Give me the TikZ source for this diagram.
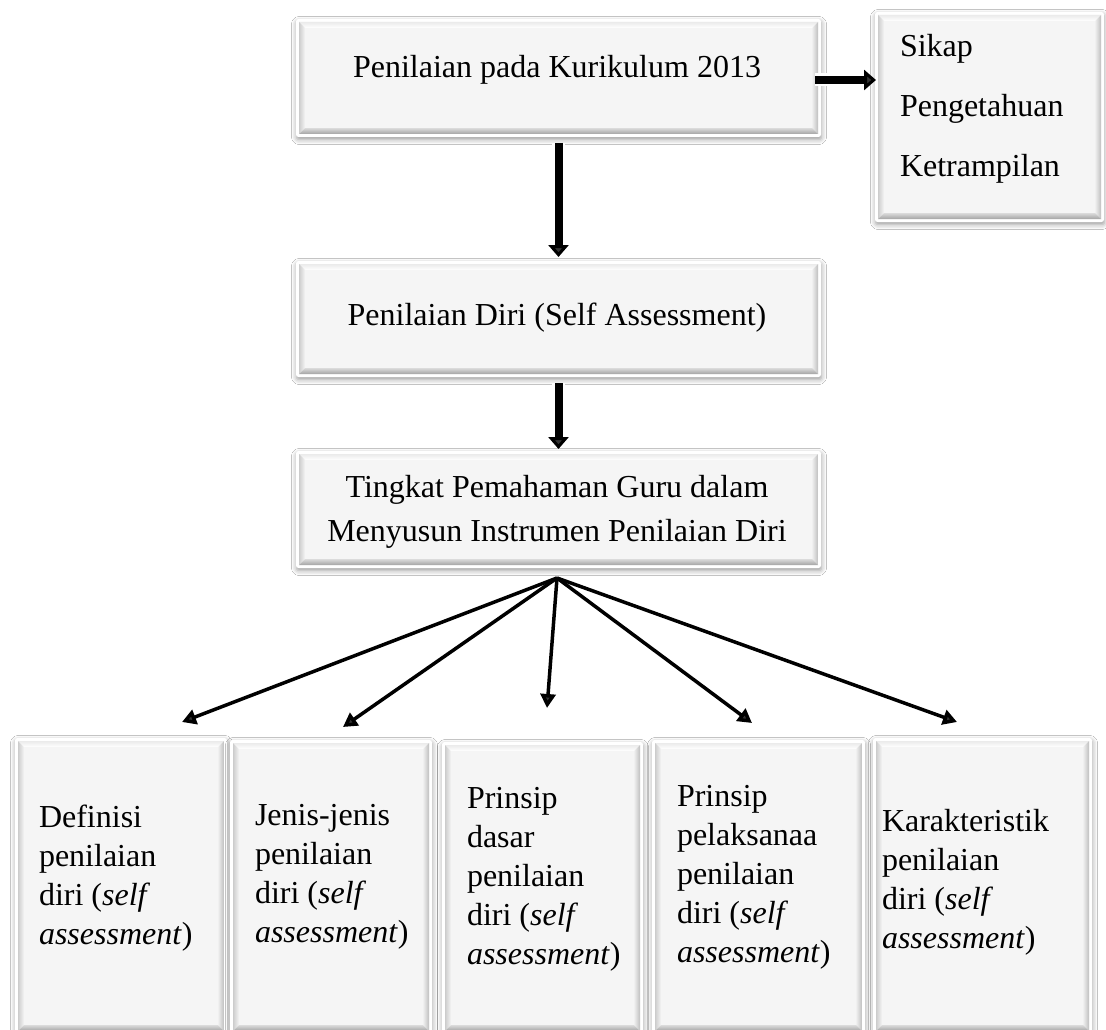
\documentclass[tikz,border=0pt]{standalone}
\usepackage{fontspec}
\setmainfont{Liberation Serif}
\usetikzlibrary{arrows.meta,shadows.blur,fit,calc}

\definecolor{facegray}{HTML}{F5F5F5}
\tikzset{
  x=1pt, y=-1pt,
  boxnode/.style={rectangle, inner sep=0pt, outer sep=0pt},
  rim/.style={fill=white, rounded corners=2.5pt,
    blur shadow={shadow xshift=0.5pt, shadow yshift=-2.5pt, shadow blur radius=5pt, shadow opacity=40}},
  bvtop/.style={top color=gray!16, bottom color=white},
  bvleft/.style={left color=gray!40, right color=gray!8},
  bvright/.style={left color=gray!12, right color=gray!50},
  bvbottom/.style={top color=gray!28, bottom color=gray!72},
  face/.style={fill=facegray},
  txt/.style={font=\fontsize{32}{39}\selectfont, inner sep=0pt, outer sep=0pt, text=black},
  blockarrow/.style={line width=8pt, -{Triangle[width=20pt,length=12pt]},
    preaction={draw=white, line width=13pt, -{Triangle[width=27pt,length=16pt]}}},
  fanarrow/.style={line width=3.5pt, -{Triangle[width=15pt,length=14pt]}},
}

% name, x0, y0, x1, y1
\newcommand\bevelbox[5]{%
  \fill[rim] (#2,#3) rectangle (#4,#5);
  \shade[bvtop] (#2+3,#3+3) -- (#4-3,#3+3) -- (#4-9,#3+9) -- (#2+9,#3+9) -- cycle;
  \shade[bvleft] (#2+3,#3+3) -- (#2+9,#3+9) -- (#2+9,#5-9) -- (#2+3,#5-3) -- cycle;
  \shade[bvright] (#4-3,#3+3) -- (#4-9,#3+9) -- (#4-9,#5-9) -- (#4-3,#5-3) -- cycle;
  \shade[bvbottom] (#2+9,#5-9) -- (#4-9,#5-9) -- (#4-3,#5-3) -- (#2+3,#5-3) -- cycle;
  \fill[face] (#2+9,#3+9) rectangle (#4-9,#5-9);
  \node[boxnode, fit={(#2,#3) (#4,#5)}] (#1) {};
}

\begin{document}
\begin{tikzpicture}
\fill[white] (0,0) rectangle (1106,1030);
\useasboundingbox (0,0) rectangle (1106,1030);

% top column
\bevelbox{kur}{296}{19}{821}{137}
\bevelbox{ranah}{875}{12}{1104}{222}
\bevelbox{diri}{296}{261}{821}{377}
\bevelbox{tingkat}{296}{451}{821}{568}

% bottom row
\bevelbox{defn}{15}{738}{227}{1034}
\bevelbox{jenis}{230}{740}{432}{1034}
\bevelbox{dasar}{442}{742}{643}{1034}
\bevelbox{laksana}{652}{740}{865}{1034}
\bevelbox{karak}{873}{738}{1092}{1034}

% texts (multi-line nodes: base = last line's baseline)
\node[txt, anchor=base] (tkur) at (557,78) {Penilaian pada Kurikulum 2013};
\node[txt, anchor=base west] (t1) at (900,57) {Sikap};
\node[txt, anchor=base west] (t2) at (900,117) {Pengetahuan};
\node[txt, anchor=base west] (t3) at (900,177) {Ketrampilan};
\node[txt, anchor=base] (tdiri) at (557,325) {Penilaian Diri (Self Assessment)};
\node[txt, anchor=base] (tting1) at (557,497) {Tingkat Pemahaman Guru dalam};
\node[txt, anchor=base] (tting2) at (557,541) {Menyusun Instrumen Penilaian Diri};

\node[txt, anchor=base west, align=left] (tdefn) at (39,944)
  {Definisi\\penilaian\\diri (\textit{self}\\\textit{assessment})};
\node[txt, anchor=base west, align=left] (tjenis) at (255,942)
  {Jenis-jenis\\penilaian\\diri (\textit{self}\\\textit{assessment})};
\node[txt, anchor=base west, align=left] (tdasar) at (467,964)
  {Prinsip\\dasar\\penilaian\\diri (\textit{self}\\\textit{assessment})};
\node[txt, anchor=base west, align=left] (tlaksana) at (677,962)
  {Prinsip\\pelaksanaa\\penilaian\\diri (\textit{self}\\\textit{assessment})};
\node[txt, anchor=base west, align=left] (tkarak) at (882,948)
  {Karakteristik\\penilaian\\diri (\textit{self}\\\textit{assessment})};

% block arrows
\coordinate (rtip) at (kur.east -| ranah.west);
\draw[blockarrow] ([xshift=-6pt,yshift=-2pt]kur.east) -- ([xshift=1pt,yshift=-2pt]rtip);
\draw[blockarrow, shorten <=6pt, shorten >=4pt] (kur.south) -- (diri.north);
\draw[blockarrow, shorten <=6pt, shorten >=2pt] (diri.south) -- (tingkat.north);

% fan arrows
\coordinate (fan) at (557,578);
\coordinate (tipA) at (182,722);
\coordinate (tipB) at (343,727);
\coordinate (tipC) at (547,708);
\coordinate (tipD) at (752,723);
\coordinate (tipE) at (957,722);
\foreach \t in {tipA,tipB,tipC,tipD,tipE}
  \draw[fanarrow] (fan) -- (\t);
\end{tikzpicture}
\end{document}
